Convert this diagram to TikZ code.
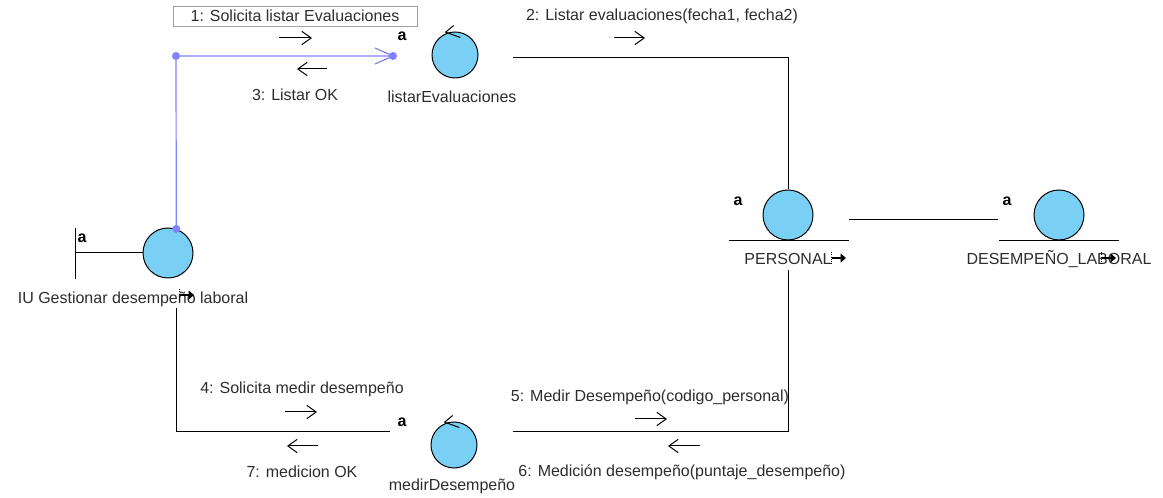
\documentclass[tikz,border=0pt]{standalone}
\usepackage{fontspec}
\setmainfont{Liberation Sans}
\usetikzlibrary{arrows.meta}
\definecolor{objfill}{RGB}{122,207,245}
\definecolor{linkblue}{RGB}{130,130,255}
\definecolor{txt}{RGB}{45,45,45}
\definecolor{boxgray}{RGB}{160,160,160}
\tikzset{
  objcircle/.style={circle, draw=black, line width=0.75pt, fill=objfill, inner sep=0pt},
  ctrlobj/.style={objcircle, minimum size=34.5pt},
  entobj/.style={objcircle, minimum size=37.5pt},
  bndobj/.style={objcircle, minimum size=37.5pt},
  lbl/.style={text=txt, font=\fontsize{12pt}{14pt}\selectfont, inner sep=0pt},
  mult/.style={text=black, font=\fontsize{12pt}{14pt}\selectfont\bfseries, inner sep=0pt},
  link/.style={draw=black, line width=0.75pt},
  msg/.style={draw=black, line width=0.75pt, -{Straight Barb[length=7pt,width=10pt]}},
  bluelink/.style={draw=linkblue, line width=0.9pt},
  bluedot/.style={circle, fill=linkblue, inner sep=0pt, minimum size=6pt},
}
\begin{document}
\begin{tikzpicture}[x=0.75pt,y=-0.75pt]
\useasboundingbox (0,0) rectangle (1163,498);

% --- objects ---
\node[ctrlobj] (le) at (455,55) {};
\node[ctrlobj] (md) at (454,445) {};
\node[entobj]  (pe) at (788,215) {};
\node[entobj]  (dl) at (1059,215) {};
\node[bndobj]  (iu) at (168,253) {};

% control-object arrows on top of circles
\foreach \c in {le,md}{
  \draw[line width=0.75pt] ([xshift=-7pt,yshift=-0.5pt]\c.north) ++(6pt,5pt) -- ++(-6pt,-5pt) -- ++(11pt,-4pt);
}

% entity underlines
\draw[link] (729,241) -- (849,241);
\draw[link] (999,241) -- (1119,241);

% boundary symbol
\coordinate (bt) at (75,228);
\coordinate (bb) at (75,279);
\coordinate (bm) at (75,253);
\draw[link] (bt) -- (bb);
\draw[link] (bm) -- (iu.west);

% multiplicity labels
\node[mult] (a1) at (402,36) {a};
\node[mult] (a2) at (738,201) {a};
\node[mult] (a3) at (1007,201) {a};
\node[mult] (a4) at (82,238) {a};
\node[mult] (a5) at (402,422) {a};

% object names
\node[lbl] (leT) at (452,97) {listarEvaluaciones};
\node[lbl] (mdT) at (452,486) {medirDesempeño};
\node[lbl] (peT) at (788,259) {PERSONAL};
\node[lbl] (dlT) at (1059,259) {DESEMPEÑO\_LABORAL};
\node[lbl] (iuT) at (133,299) {IU Gestionar desempeño laboral};

% small navigation markers
\foreach \px/\py in {838/258, 1108/258, 186/295}{
  \begin{scope}[shift={(\px,\py)}]
    \draw[line width=0.7pt, densely dotted] (-7,-6) -- (-7,6);
    \draw[line width=1.6pt, -{Triangle[length=4pt,width=6.5pt]}] (-6,0) -- (8,0);
  \end{scope}
}

% --- links ---
% blue link from UI to listarEvaluaciones
\coordinate (bcorner) at (176,56);
\coordinate (bend) at (393,56);
\draw[bluelink] (iu.71) -- (bcorner) -- (bend);
\draw[bluelink] (bend) ++(-18,-8) -- (bend) -- ++(-18,8);
\node[bluedot] (d1) at (iu.71) {};
\node[bluedot] (d2) at (bcorner) {};
\node[bluedot] (d3) at (bend) {};

% listarEvaluaciones to PERSONAL
\coordinate (leR) at (513,58);
\draw[link] (leR) -| (pe.north);

% PERSONAL to DESEMPEÑO_LABORAL
\coordinate (peR) at (849,220);
\coordinate (dlL) at (998,220);
\draw[link] (peR) -- (dlL);

% PERSONAL to medirDesempeño
\coordinate (peS) at (788,270);
\coordinate (mdR) at (513,432);
\draw[link] (peS) |- (mdR);

% UI to medirDesempeño
\coordinate (iuS) at (176,308);
\coordinate (mdL) at (390,432);
\draw[link] (iuS) |- (mdL);

% --- messages ---
\node[lbl, draw=boxgray, line width=0.6pt, minimum width=183pt, minimum height=15pt] (m1) at (295,16) {1: Solicita listar Evaluaciones};
\draw[msg] (279,38) -- (312,38);

\node[lbl] (m2) at (662,16) {2: Listar evaluaciones(fecha1, fecha2)};
\draw[msg] (614,38) -- (645,38);

\node[lbl] (m3) at (295,95) {3: Listar OK};
\draw[msg] (327,69) -- (297,69);

\node[lbl] (m4) at (302,389) {4: Solicita medir desempeño};
\draw[msg] (285,412) -- (317,412);

\node[lbl] (m5) at (650,397) {5: Medir Desempeño(codigo\_personal)};
\draw[msg] (635,419) -- (667,419);

\node[lbl] (m6) at (682,472) {6: Medición desempeño(puntaje\_desempeño)};
\draw[msg] (700,446) -- (668,446);

\node[lbl] (m7) at (302,472) {7: medicion OK};
\draw[msg] (318,446) -- (287,446);
\end{tikzpicture}
\end{document}
